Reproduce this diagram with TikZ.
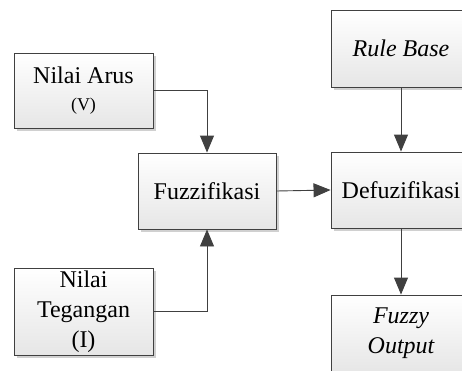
\documentclass[tikz,border=0pt]{standalone}
\usepackage{fontspec}
\setmainfont{Liberation Serif}
\usetikzlibrary{arrows.meta,shadows}
\definecolor{edge}{HTML}{404040}
\definecolor{boxbot}{HTML}{E6E6E6}
\definecolor{shade}{HTML}{D0D0D0}
\tikzset{
  blk/.style={draw=edge, line width=0.9pt, top color=white, bottom color=boxbot,
    minimum width=139pt, inner sep=0pt, align=center,
    font=\fontsize{24}{30}\selectfont,
    drop shadow={shadow xshift=3pt, shadow yshift=-3pt, fill=shade, opacity=1}},
  conn/.style={draw=edge, line width=0.9pt, -{Triangle[length=17pt,width=14pt]}}
}
\begin{document}
\begin{tikzpicture}[x=1pt,y=-1pt]
\useasboundingbox (0,0) rectangle (462,370);
\clip (0,0) rectangle (462,370);
\node[blk, minimum height=75pt] (arus) at (83.5,90.5) {Nilai Arus\\[-3pt]{\fontsize{18}{22}\selectfont (V)}};
\node[blk, minimum height=76pt, minimum width=138pt] (fuzz) at (207,191) {Fuzzifikasi};
\node[blk, minimum height=87pt] (teg) at (83.5,311.5) {Nilai\\Tegangan\\(I)};
\node[blk, minimum height=77pt, minimum width=140pt] (rule) at (401,48.5) {\itshape Rule Base};
\node[blk, minimum height=76pt, minimum width=140pt] (defuz) at (401,190) {Defuzifikasi};
\node[blk, minimum height=77pt, minimum width=140pt] (out) at (401,333.5) {\itshape Fuzzy\\\itshape Output};
\draw[conn] (arus.east) -| (fuzz.north);
\draw[conn] (teg.east) -| (fuzz.south);
\draw[conn] (fuzz.east) -- (defuz.west);
\draw[conn] (rule.south) -- (defuz.north);
\draw[conn] (defuz.south) -- (out.north);
\end{tikzpicture}
\end{document}
